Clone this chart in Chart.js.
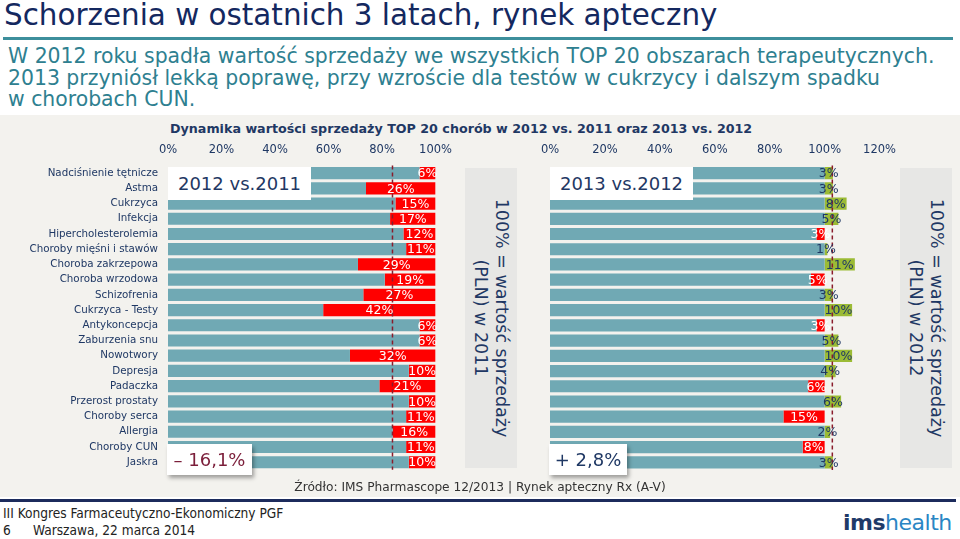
<!DOCTYPE html>
<html>
<head>
<meta charset="utf-8">
<script src="https://cdn.jsdelivr.net/npm/chart.js@4.4.1/dist/chart.umd.min.js"></script>
<style>
  body { margin: 0; width: 960px; height: 539px; background: #fff; font-family: "DejaVu Sans", Verdana, sans-serif; position: relative; overflow: hidden; }
  .abs { position: absolute; }
  #title { left: 4px; top: -2px; font-size: 29.4px; color: #14285f; white-space: nowrap; }
  #rule { left: 3px; top: 37px; width: 950px; height: 3px; background: #3d8f9c; }
  #intro { left: 8px; top: 46px; width: 950px; font-size: 20.4px; line-height: 21.5px; color: #2e8090; white-space: nowrap; }
  #panel { left: 0; top: 115px; width: 960px; height: 382px; background: #f3f2ee; }
  #heading { left: 170px; top: 121px; font-size: 12.7px; font-weight: bold; color: #1f3864; white-space: nowrap; }
  .tag { background: #fff; color: #1f3864; font-size: 18px; text-align: center; }
  .shadow { box-shadow: 2px 3px 4px rgba(0,0,0,0.35); }
  .vbox { background: #e7e7e5; }
  .vtext { position: absolute; left: 50%; top: 50%; transform: translate(-50%, -50%) rotate(90deg); white-space: nowrap; text-align: center; font-size: 17.5px; line-height: 21px; color: #1f3864; }
  #source { left: 0; width: 960px; top: 480px; text-align: center; font-size: 12.2px; color: #333; }
  #footline { left: 0; top: 499px; width: 956px; height: 3px; background: #1c2b5c; }
  .foot { font-family: "DejaVu Sans Condensed", "DejaVu Sans", sans-serif; font-size: 13.6px; color: #222; white-space: nowrap; }
  #logo { left: 843px; top: 510px; font-size: 22px; white-space: nowrap; font-family: "DejaVu Sans", sans-serif; letter-spacing: -0.5px; }
</style>
</head>
<body>
<div class="abs" id="title">Schorzenia w ostatnich 3 latach, rynek apteczny</div>
<div class="abs" id="rule"></div>
<div class="abs" id="intro">W 2012 roku spadła wartość sprzedaży we wszystkich TOP 20 obszarach terapeutycznych.<br>2013 przyniósł lekką poprawę, przy wzroście dla testów w cukrzycy i dalszym spadku<br>w chorobach CUN.</div>
<div class="abs" id="panel"></div>
<div class="abs" id="heading">Dynamika wartości sprzedaży TOP 20 chorób w 2012 vs. 2011 oraz 2013 vs. 2012</div>

<div class="abs" style="left:0;top:130px;width:461px;height:356px"><canvas id="c1"></canvas></div>
<div class="abs vbox" style="left:465px;top:168px;width:52px;height:300px"><div class="vtext">100% = wartość sprzedaży<br>(PLN) w 2011</div></div>
<div class="abs vbox" style="left:900px;top:168px;width:52px;height:300px"><div class="vtext">100% = wartość sprzedaży<br>(PLN) w 2012</div></div>
<div class="abs" style="left:520px;top:130px;width:385px;height:340px"><canvas id="c2"></canvas></div>

<div class="abs tag" style="left:168px;top:167px;width:143px;height:33px;line-height:33px">2012 vs.2011</div>
<div class="abs tag" style="left:550px;top:167px;width:143px;height:33px;line-height:33px">2013 vs.2012</div>
<div class="abs tag shadow" style="left:167px;top:444px;width:85px;height:31px;line-height:31px;color:#7b1e3a">– 16,1%</div>
<div class="abs tag shadow" style="left:549px;top:444px;width:78px;height:31px;line-height:31px">+ 2,8%</div>

<div class="abs" id="source">Źródło: IMS Pharmascope 12/2013 | Rynek apteczny Rx (A-V)</div>
<div class="abs" id="footline"></div>
<div class="abs foot" style="left:3px;top:505px">III Kongres Farmaceutyczno-Ekonomiczny PGF</div>
<div class="abs foot" style="left:3px;top:522px">6</div>
<div class="abs foot" style="left:33px;top:522px">Warszawa, 22 marca 2014</div>
<div class="abs" id="logo"><b style="color:#1f3a68">ims</b><span style="color:#2a86c4">health</span></div>

<script>
const categories = ['Nadciśnienie tętnicze', 'Astma', 'Cukrzyca', 'Infekcja', 'Hipercholesterolemia',
  'Choroby mięśni i stawów', 'Choroba zakrzepowa', 'Choroba wrzodowa', 'Schizofrenia', 'Cukrzyca - Testy',
  'Antykoncepcja', 'Zaburzenia snu', 'Nowotwory', 'Depresja', 'Padaczka',
  'Przerost prostaty', 'Choroby serca', 'Allergia', 'Choroby CUN', 'Jaskra'];
// spadek 2012 vs 2011 (%)
const decline2012 = [6, 26, 15, 17, 12, 11, 29, 19, 27, 42, 6, 6, 32, 10, 21, 10, 11, 16, 11, 10];
// zmiana 2013 vs 2012 (%)
const change2013 = [3, 3, 8, 5, -3, 1, 11, -5, 3, 10, -3, 5, 10, 4, -6, 6, -15, 2, -8, 3];
const total2012 = -16.1;
const total2013 = 2.8;
const ticks2012 = [0, 20, 40, 60, 80, 100];
const ticks2013 = [0, 20, 40, 60, 80, 100, 120];

const TEAL = '#70a9b4', RED = '#ff0000', GREEN = '#9bbb35', NAVY = '#1f3864';
const FONT = "'DejaVu Sans', Verdana, sans-serif";

// dashed average line + value labels
const overlay = {
  id: 'overlay',
  afterDatasetsDraw(chart) {
    const ctx = chart.ctx, area = chart.chartArea;
    const x = chart.scales.x.getPixelForValue(chart.options.avgLine);
    ctx.save();
    ctx.strokeStyle = '#8a1c2c';
    ctx.lineWidth = 1.5;
    ctx.setLineDash([4, 3]);
    ctx.beginPath();
    ctx.moveTo(x, area.top);
    ctx.lineTo(x, area.bottom);
    ctx.stroke();
    ctx.setLineDash([]);
    ctx.font = '12.5px ' + FONT;
    ctx.textAlign = 'center';
    ctx.textBaseline = 'middle';
    chart.data.datasets.forEach((ds, di) => {
      if (!ds.labelColor) return;
      chart.getDatasetMeta(di).data.forEach((bar, i) => {
        const txt = ds.labels[i];
        if (!txt) return;
        ctx.fillStyle = ds.labelColor;
        ctx.fillText(txt, (bar.x + bar.base) / 2, bar.y + 1);
      });
    });
    ctx.restore();
  }
};

function makeOptions(max, tickList, avg, showY) {
  return {
    indexAxis: 'y',
    responsive: true,
    maintainAspectRatio: false,
    animation: false,
    avgLine: avg,
    plugins: { legend: { display: false }, tooltip: { enabled: false } },
    scales: {
      x: {
        position: 'top', stacked: true, min: 0, max: max,
        afterBuildTicks: s => { s.ticks = tickList.map(v => ({ value: v })); },
        afterFit: s => { s.height = 35.5; },
        grid: { display: false, drawTicks: false },
        border: { display: false },
        ticks: { padding: 9, color: NAVY, font: { family: FONT, size: 11.5 }, callback: v => v + '%' }
      },
      y: {
        stacked: true,
        afterFit: s => { s.width = showY ? 168 : 30; },
        grid: { display: false, drawTicks: false },
        border: { display: false },
        ticks: { display: showY, autoSkip: false, padding: 10, color: NAVY, font: { family: FONT, size: 10.3 } }
      }
    }
  };
}

const barOpts = { barPercentage: 0.8, categoryPercentage: 1.0, borderWidth: 0 };

new Chart(document.getElementById('c1'), {
  type: 'bar',
  data: {
    labels: categories,
    datasets: [
      Object.assign({ data: decline2012.map(d => 100 - d), backgroundColor: TEAL }, barOpts),
      Object.assign({ data: decline2012, backgroundColor: RED, labelColor: '#fff',
        labels: decline2012.map(d => d + '%') }, barOpts)
    ]
  },
  options: makeOptions(100, ticks2012, 100 + total2012, true),
  plugins: [overlay]
});

new Chart(document.getElementById('c2'), {
  type: 'bar',
  data: {
    labels: categories,
    datasets: [
      Object.assign({ data: change2013.map(v => v < 0 ? 100 + v : 100), backgroundColor: TEAL }, barOpts),
      Object.assign({ data: change2013.map(v => v < 0 ? -v : 0), backgroundColor: RED, labelColor: '#fff',
        labels: change2013.map(v => v < 0 ? (-v) + '%' : '') }, barOpts),
      Object.assign({ data: change2013.map(v => v > 0 ? v : 0), backgroundColor: GREEN, labelColor: NAVY,
        labels: change2013.map(v => v > 0 ? v + '%' : '') }, barOpts)
    ]
  },
  options: makeOptions(120, ticks2013, 100 + total2013, false),
  plugins: [overlay]
});
</script>
</body>
</html>
